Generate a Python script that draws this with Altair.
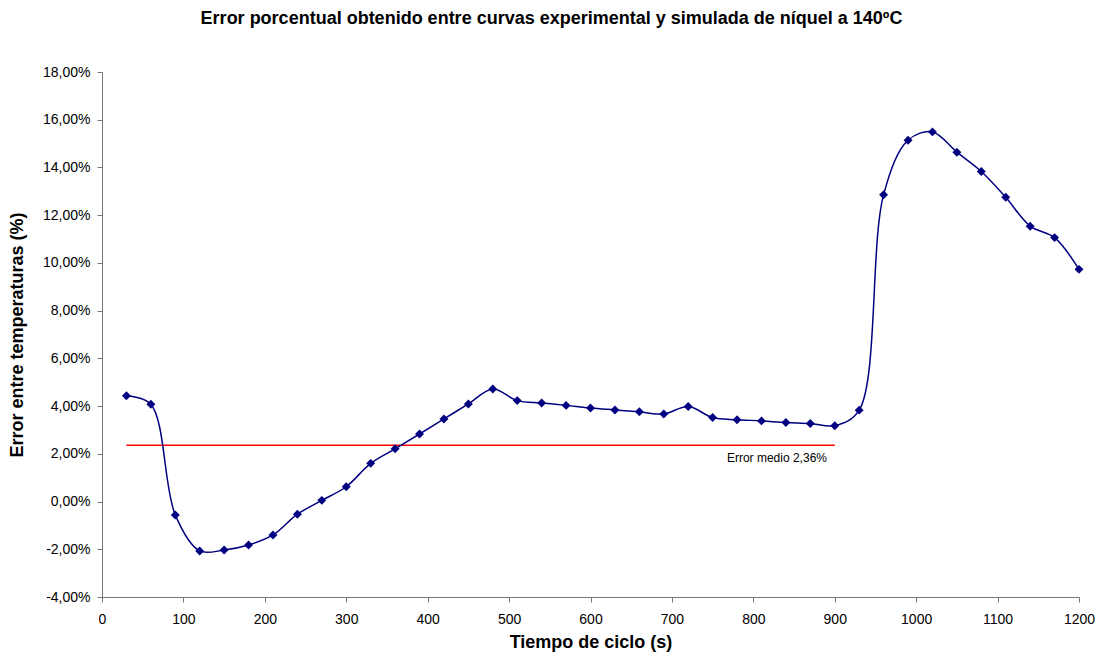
import altair as alt
import pandas as pd

tiempo = [30, 60, 90, 120, 150, 180, 210, 240, 270, 300, 330, 360, 390, 420, 450, 480,
          510, 540, 570, 600, 630, 660, 690, 720, 750, 780, 810, 840, 870, 900, 930,
          960, 990, 1020, 1050, 1080, 1110, 1140, 1170, 1200]
error = [4.43, 4.08, -0.56, -2.07, -2.03, -1.82, -1.40, -0.53, 0.05, 0.62, 1.60, 2.21,
         2.83, 3.46, 4.09, 4.72, 4.23, 4.13, 4.03, 3.92, 3.84, 3.76, 3.67, 3.98, 3.52,
         3.43, 3.38, 3.31, 3.27, 3.18, 3.83, 12.86, 15.14, 15.49, 14.64, 13.83, 12.75,
         11.54, 11.06, 9.73]
media_x = [30, 900]
media_y = [2.36, 2.36]
media_label = "Error medio 2,36%"

df = pd.DataFrame({"t": tiempo, "e": error})
dm = pd.DataFrame({"t": media_x, "e": media_y})
dl = pd.DataFrame({"t": [829], "e": [2.36], "txt": [media_label]})

FONT = "Liberation Sans"

x = alt.X("t:Q", title="Tiempo de ciclo (s)",
          scale=alt.Scale(domain=[0, 1200], nice=False, zero=False),
          axis=alt.Axis(values=list(range(0, 1201, 100)), grid=False, tickSize=5,
                        format="d",
                        labelFontSize=14, labelFont=FONT, labelColor="#000",
                        titleFontSize=18, titleFont=FONT, titleFontWeight="bold",
                        titlePadding=7, labelPadding=10, domainColor="#777",
                        tickColor="#777", labelFlush=False))
y = alt.Y("e:Q", title="Error entre temperaturas (%)",
          scale=alt.Scale(domain=[-4, 18], nice=False, zero=False),
          axis=alt.Axis(values=list(range(-4, 19, 2)), grid=False, tickSize=5,
                        labelExpr="replace(replace(format(datum.value, '.2f'), '.', ','), '\u2212', '-') + '%'",
                        labelFontSize=14, labelFont=FONT, labelColor="#000",
                        titleFontSize=18, titleFont=FONT, titleFontWeight="bold",
                        titlePadding=16, labelPadding=7, domainColor="#777",
                        tickColor="#777"))

line = alt.Chart(df).mark_line(color="#000080", strokeWidth=1.5,
                               interpolate="catmull-rom").encode(x=x, y=y)
pts = alt.Chart(df).mark_point(shape="diamond", filled=True, color="#000080",
                               size=80, opacity=1).encode(x="t:Q", y="e:Q")
media = alt.Chart(dm).mark_line(color="#FF0000", strokeWidth=1.5).encode(x="t:Q", y="e:Q")
label = alt.Chart(dl).mark_text(font=FONT, fontSize=12, color="#000", dy=13).encode(
    x="t:Q", y="e:Q", text="txt:N")

chart = alt.layer(media, line, pts, label).properties(
    width=977, height=525,
    padding={"left": 94, "top": 64, "right": 16, "bottom": 56},
    autosize=alt.AutoSizeParams(type="none"),
    title=alt.TitleParams(
        "Error porcentual obtenido entre curvas experimental y simulada de níquel a 140ºC",
        font=FONT, fontSize=18, fontWeight="bold", color="#000", offset=37, dx=-39,
        anchor="middle"),
).configure_view(stroke=None)

chart.save("out.html", embed_options={"renderer": "svg", "actions": False})
